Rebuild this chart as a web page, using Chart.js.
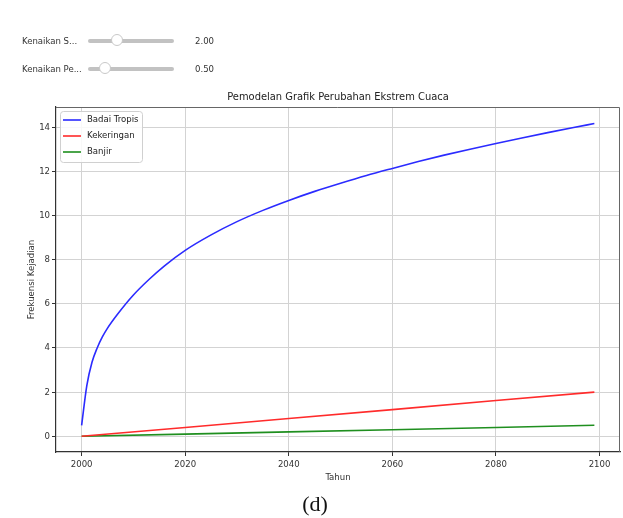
<!DOCTYPE html>
<html>
<head>
<meta charset="utf-8">
<script src="https://cdn.jsdelivr.net/npm/chart.js@4"></script>
<style>
  html, body { margin: 0; padding: 0; background: #fff; }
  #page { position: relative; width: 623px; height: 518px; overflow: hidden; }
  #view-canvas { position: absolute; left: 0; top: 0; }
  .slider { position: absolute; left: 0; height: 14px; font: 9.5px "DejaVu Sans Condensed", Roboto, sans-serif; color: #333; }
  .slider .lbl { position: absolute; left: 22px; top: 1px; white-space: nowrap; }
  .slider .track { position: absolute; left: 88px; top: 5px; width: 86px; height: 4px; border-radius: 2px; background: #c2c2c2; }
  .slider .thumb { position: absolute; top: -5px; width: 12px; height: 12px; margin-left: -6px; border-radius: 50%; background: #fff; border: 1px solid #c8c8c8; box-sizing: border-box; }
  .slider .val { position: absolute; left: 195px; top: 1px; }
  #caption { position: absolute; left: 0; width: 630px; top: 491px; text-align: center; font: 22px "Liberation Serif", "DejaVu Serif", serif; color: #111; }
</style>
</head>
<body>
<div id="page">
  <canvas id="view-canvas" width="623" height="518"></canvas>
  <div id="sliders"></div>
  <div id="caption">(d)</div>
</div>
<script>
// widget values above the plot
var sliderLabels = ['Kenaikan S...', 'Kenaikan Pe...'];
var sliderValues = [2.0, 0.5];
var sliderMax = [6, 2.5];

// yearly frequencies
var curveYears = [2000, 2001, 2002, 2003, 2004, 2005, 2007, 2010, 2013, 2016, 2020, 2025, 2030, 2035,
    2040, 2045, 2050, 2055, 2060, 2065, 2070, 2075, 2080, 2085, 2090, 2095, 2099];
var badaiTropis = [0.5, 2.3, 3.35, 4.0, 4.5, 4.9, 5.55, 6.4, 7.1, 7.72, 8.42, 9.12, 9.72, 10.23,
    10.68, 11.09, 11.46, 11.81, 12.13, 12.44, 12.73, 13.0, 13.26, 13.51, 13.75, 13.98, 14.16];

var lineYears = [2000, 2020, 2040, 2060, 2080, 2099];
var kekeringan = [0, 0.4, 0.81, 1.21, 1.62, 2.0];
var banjir = [0, 0.1, 0.2, 0.3, 0.4, 0.5];

var xTicks = [2000, 2020, 2040, 2060, 2080, 2100];
var yTicks = [0, 2, 4, 6, 8, 10, 12, 14];

var chartTitle = 'Pemodelan Grafik Perubahan Ekstrem Cuaca';
var FONT = '"DejaVu Sans Condensed", Roboto, sans-serif';

// sliders
var holder = document.getElementById('sliders');
sliderLabels.forEach(function (label, i) {
    var row = document.createElement('div');
    row.className = 'slider';
    row.style.top = (34 + i * 28) + 'px';
    var pos = Math.round(86 * sliderValues[i] / sliderMax[i]);
    row.innerHTML = '<span class="lbl">' + label + '</span>' +
        '<div class="track"><div class="thumb" style="left:' + pos + 'px"></div></div>' +
        '<span class="val">' + sliderValues[i].toFixed(2) + '</span>';
    holder.appendChild(row);
});

function toPoints(xs, ys) {
    return xs.map(function (x, i) { return { x: x, y: ys[i] }; });
}

// title, top/right spines and the in-plot legend
var framePlugin = {
    id: 'frame',
    afterDraw: function (chart) {
        var ctx = chart.ctx;
        var a = chart.chartArea;
        ctx.save();
        ctx.strokeStyle = '#666';
        ctx.lineWidth = 1;
        ctx.beginPath();
        ctx.moveTo(a.left, a.top + 0.5);
        ctx.lineTo(a.right - 0.5, a.top + 0.5);
        ctx.lineTo(a.right - 0.5, a.bottom);
        ctx.stroke();

        ctx.fillStyle = '#222';
        ctx.font = '11px ' + FONT;
        ctx.textAlign = 'center';
        ctx.textBaseline = 'middle';
        ctx.fillText(chartTitle, (a.left + a.right) / 2, 97);

        // legend box
        var bx = a.left + 4, by = a.top + 4, bw = 82, bh = 51;
        ctx.fillStyle = 'rgba(255,255,255,0.85)';
        ctx.strokeStyle = '#d0d0d0';
        ctx.beginPath();
        ctx.roundRect(bx + 0.5, by + 0.5, bw, bh, 3);
        ctx.fill();
        ctx.stroke();
        ctx.font = '9.5px ' + FONT;
        ctx.textAlign = 'left';
        chart.data.datasets.forEach(function (ds, i) {
            var y = by + 9 + i * 16;
            ctx.strokeStyle = ds.borderColor;
            ctx.lineWidth = 1.6;
            ctx.beginPath();
            ctx.moveTo(bx + 3, y);
            ctx.lineTo(bx + 21, y);
            ctx.stroke();
            ctx.fillStyle = '#222';
            ctx.fillText(ds.label, bx + 27, y);
        });
        ctx.restore();
    }
};

var canvas = document.getElementById('view-canvas');
var myChart = new Chart(canvas, {
    type: 'line',
    data: {
        datasets: [{
            label: 'Badai Tropis',
            data: toPoints(curveYears, badaiTropis),
            borderColor: '#2b2bff',
            cubicInterpolationMode: 'monotone'
        }, {
            label: 'Kekeringan',
            data: toPoints(lineYears, kekeringan),
            borderColor: '#ff2b2b'
        }, {
            label: 'Banjir',
            data: toPoints(lineYears, banjir),
            borderColor: '#1f8f1f'
        }]
    },
    options: {
        responsive: false,
        animation: false,
        events: [],
        elements: {
            point: { radius: 0 },
            line: { borderWidth: 1.6, fill: false }
        },
        layout: { padding: { left: 0, right: 3, top: 107, bottom: 35 } },
        plugins: {
            legend: { display: false },
            title: { display: false },
            tooltip: { enabled: false }
        },
        scales: {
            x: {
                type: 'linear',
                min: 1995.05,
                max: 2103.95,
                afterBuildTicks: function (s) { s.ticks = xTicks.map(function (v) { return { value: v }; }); },
                afterFit: function (s) { s.height = 31; },
                grid: { color: '#d3d3d3', tickColor: '#333', tickLength: 4 },
                border: { color: '#333', width: 1.2 },
                ticks: { color: '#333', font: { family: FONT, size: 9.5 }, padding: 3, maxRotation: 0,
                    callback: function (v) { return String(v); } },
                title: { display: true, text: 'Tahun', color: '#333', font: { family: FONT, size: 9.5 }, padding: 0 }
            },
            y: {
                min: -0.71,
                max: 14.91,
                afterBuildTicks: function (s) { s.ticks = yTicks.map(function (v) { return { value: v }; }); },
                afterFit: function (s) { s.width = 56; },
                grid: { color: '#d3d3d3', tickColor: '#333', tickLength: 4 },
                border: { color: '#333', width: 1.2 },
                ticks: { color: '#333', font: { family: FONT, size: 9.5 }, padding: 2,
                    callback: function (v) { return String(v); } },
                title: { display: true, text: 'Frekuensi Kejadian', color: '#333', font: { family: FONT, size: 9.5 }, padding: { top: 26 } }
            }
        }
    },
    plugins: [framePlugin]
});
</script>
</body>
</html>
